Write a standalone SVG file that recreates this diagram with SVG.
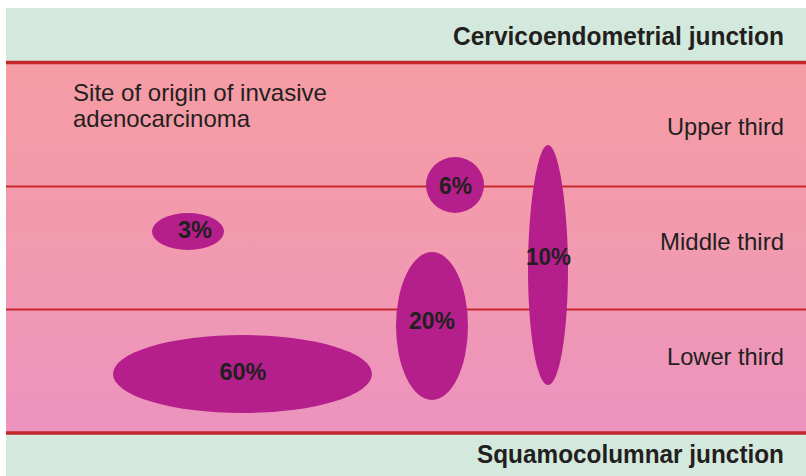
<svg xmlns="http://www.w3.org/2000/svg" width="806" height="476" viewBox="0 0 806 476">
  <defs>
    <linearGradient id="pinkBand" x1="0" y1="0" x2="0" y2="1">
      <stop offset="0" stop-color="#F69CA4"/>
      <stop offset="0.5" stop-color="#F29AAF"/>
      <stop offset="1" stop-color="#EC93BF"/>
    </linearGradient>
    <style>
      .blob { fill: #B41F8C; }
      .pct { font-family: "Liberation Sans", Arial, sans-serif; font-weight: bold; font-size: 24px; fill: #231F20; text-anchor: middle; }
      .lbl { font-family: "Liberation Sans", Arial, sans-serif; font-size: 24px; fill: #231F20; }
      .zone { text-anchor: end; }
      .title { font-family: "Liberation Sans", Arial, sans-serif; font-weight: bold; font-size: 25.5px; fill: #231F20; text-anchor: end; }
      .thick { stroke: #C1272D; stroke-width: 3.5; }
      .thin { stroke: #C8262D; stroke-width: 2; }
    </style>
  </defs>

  <rect x="0" y="0" width="806" height="476" fill="#FFFFFF"/>
  <g id="background">
    <rect x="6" y="8" width="800" height="468" fill="#D4E9DD"/>
    <rect x="6" y="63" width="800" height="370" fill="url(#pinkBand)"/>
  </g>

  <g id="connectors">
    <line class="thick" x1="6" y1="62.5" x2="806" y2="62.5"/>
    <line class="thin" x1="6" y1="186.5" x2="806" y2="186.5"/>
    <line class="thin" x1="6" y1="309.5" x2="806" y2="309.5"/>
    <line class="thick" x1="6" y1="433" x2="806" y2="433"/>
  </g>

  <g id="title-top">
    <text class="title" x="784" y="45" textLength="331" lengthAdjust="spacingAndGlyphs">Cervicoendometrial junction</text>
  </g>
  <g id="title-bottom">
    <text class="title" x="784" y="463" textLength="307" lengthAdjust="spacingAndGlyphs">Squamocolumnar junction</text>
  </g>

  <g id="caption">
    <text class="lbl" x="73" y="101" textLength="254" lengthAdjust="spacingAndGlyphs">Site of origin of invasive</text>
    <text class="lbl" x="73" y="127" textLength="177" lengthAdjust="spacingAndGlyphs">adenocarcinoma</text>
  </g>

  <g id="zone-upper"><text class="lbl zone" x="784" y="135" textLength="117" lengthAdjust="spacingAndGlyphs">Upper third</text></g>
  <g id="zone-middle"><text class="lbl zone" x="784" y="250" textLength="124" lengthAdjust="spacingAndGlyphs">Middle third</text></g>
  <g id="zone-lower"><text class="lbl zone" x="784" y="365" textLength="117" lengthAdjust="spacingAndGlyphs">Lower third</text></g>

  <g id="node-3">
    <ellipse class="blob" cx="188" cy="231.5" rx="36" ry="18.5"/>
    <text class="pct" x="195" y="238" textLength="34" lengthAdjust="spacingAndGlyphs">3%</text>
  </g>
  <g id="node-6">
    <ellipse class="blob" cx="455" cy="185" rx="29" ry="28"/>
    <text class="pct" x="455.5" y="193.5" textLength="33" lengthAdjust="spacingAndGlyphs">6%</text>
  </g>
  <g id="node-10">
    <path class="blob" d="M548,145 C559,145 568,210 568,268 C568,335 559,385 548,385 C537,385 528,335 528,268 C528,210 537,145 548,145 Z"/>
    <text class="pct" x="548.5" y="264.5" textLength="45" lengthAdjust="spacingAndGlyphs">10%</text>
  </g>
  <g id="node-20">
    <ellipse class="blob" cx="432" cy="326" rx="36" ry="74"/>
    <text class="pct" x="432" y="328.5" textLength="46" lengthAdjust="spacingAndGlyphs">20%</text>
  </g>
  <g id="node-60">
    <ellipse class="blob" cx="242.5" cy="374" rx="129.5" ry="39"/>
    <text class="pct" x="243" y="379.5" textLength="47" lengthAdjust="spacingAndGlyphs">60%</text>
  </g>
</svg>
